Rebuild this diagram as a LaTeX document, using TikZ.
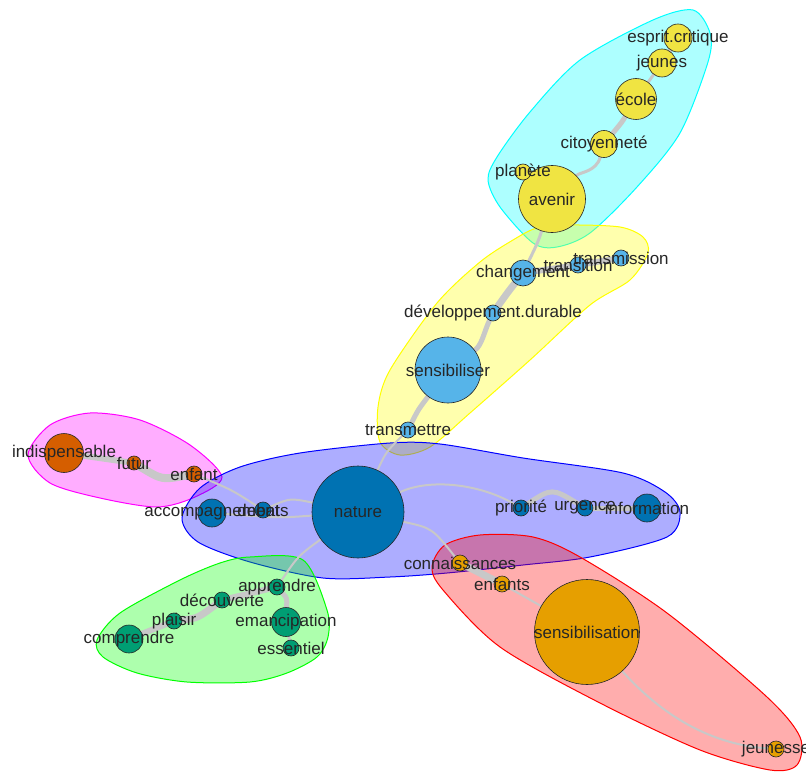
\documentclass[tikz,border=0pt]{standalone}
\usepackage{fontspec}
\setmainfont{Liberation Sans}
\definecolor{okyellow}{HTML}{F0E442}
\definecolor{oksky}{HTML}{56B4E9}
\definecolor{okblue}{HTML}{0072B2}
\definecolor{okvermil}{HTML}{D55E00}
\definecolor{okgreen}{HTML}{009E73}
\definecolor{okorange}{HTML}{E69F00}
\definecolor{edgegray}{RGB}{200,200,200}
\definecolor{hcyan}{RGB}{0,255,255}
\definecolor{hyellow}{RGB}{255,255,0}
\definecolor{hmagenta}{RGB}{255,0,255}
\definecolor{hblue}{RGB}{0,0,255}
\definecolor{hgreen}{RGB}{0,255,0}
\definecolor{hred}{RGB}{255,0,0}
\pgfdeclarelayer{hulls}
\pgfdeclarelayer{edges}
\pgfsetlayers{hulls,edges,main}

\begin{document}
\begin{tikzpicture}[x=1pt,y=-1pt,
    hull/.style={draw=#1,fill=#1,fill opacity=0.32,line width=1pt},
    edge/.style={edgegray,line cap=round,line width=#1},
    vtx/.style={circle,draw=black!85,line width=0.6pt,fill=#1,inner sep=0pt},
    lbl/.style={text=black!85,inner sep=0pt,font=\fontsize{17}{19}\selectfont}]
    \useasboundingbox (0,0) rectangle (806,773);
    \begin{pgfonlayer}{hulls}
    \fill[white] (0,0) rectangle (806,773);
    \draw[hull=hcyan] plot[smooth cycle] coordinates {(497,157) (530,112) (580,60) (653,20) (693,10) (710,33) (708,62) (680,133) (637,187) (590,233) (557,247) (533,243) (500,207) (488,180)};
    \draw[hull=hyellow] plot[smooth cycle] coordinates {(513,240) (537,228) (570,225) (620,227) (643,237) (648,253) (630,280) (590,305) (530,360) (470,413) (430,447) (400,455) (380,442) (378,407) (390,370) (437,303) (480,262)};
    \draw[hull=hmagenta] plot[smooth cycle] coordinates {(28,455) (50,425) (90,413) (140,420) (190,445) (222,477) (195,497) (157,507) (100,498) (50,483)};
    \draw[hull=hblue] plot[smooth cycle] coordinates {(182,518) (200,488) (240,467) (300,453) (390,443) (440,444) (523,458) (623,473) (665,492) (680,512) (667,537) (590,557) (523,565) (447,573) (390,577) (323,578) (250,562) (198,542)};
    \draw[hull=hgreen] plot[smooth cycle] coordinates {(250,557) (303,560) (327,610) (328,637) (317,657) (287,673) (250,682) (187,682) (137,673) (103,657) (97,640) (120,613) (180,580) (220,563)};
    \draw[hull=hred] plot[smooth cycle] coordinates {(432,567) (445,545) (480,535) (533,537) (580,557) (667,613) (767,697) (800,737) (797,765) (770,770) (700,750) (600,703) (500,647) (443,590)};
    \end{pgfonlayer}

    \node[vtx=okyellow,minimum size=67] (avenir) at (552,199) {};
    \node[vtx=okyellow,minimum size=16] (planete) at (523,172) {};
    \node[vtx=okyellow,minimum size=27] (citoyennete) at (604,144) {};
    \node[vtx=okyellow,minimum size=41] (ecole) at (636,99) {};
    \node[vtx=okyellow,minimum size=28] (jeunes) at (662,63) {};
    \node[vtx=okyellow,minimum size=28] (esprit) at (678,38) {};

    \node[vtx=oksky,minimum size=66] (sensibiliser) at (448,370) {};
    \node[vtx=oksky,minimum size=16] (devdur) at (493,313) {};
    \node[vtx=oksky,minimum size=26] (changement) at (523,273) {};
    \node[vtx=oksky,minimum size=16] (transition) at (578,265) {};
    \node[vtx=oksky,minimum size=16] (transmission) at (621,258) {};
    \node[vtx=oksky,minimum size=16] (transmettre) at (408,430) {};

    \node[vtx=okblue,minimum size=92] (nature) at (358,512) {};
    \node[vtx=okblue,minimum size=16] (priorite) at (521,508) {};
    \node[vtx=okblue,minimum size=16] (urgence) at (585,508) {};
    \node[vtx=okblue,minimum size=28] (information) at (647,508) {};
    \node[vtx=okblue,minimum size=28] (accompagnement) at (212,513) {};
    \node[vtx=okblue,minimum size=16] (debats) at (263,510) {};

    \node[vtx=okvermil,minimum size=39] (indispensable) at (64,453) {};
    \node[vtx=okvermil,minimum size=14] (futur) at (134,463) {};
    \node[vtx=okvermil,minimum size=16] (enfant) at (194,474) {};

    \node[vtx=okgreen,minimum size=16] (apprendre) at (277,587) {};
    \node[vtx=okgreen,minimum size=16] (decouverte) at (222,600) {};
    \node[vtx=okgreen,minimum size=16] (plaisir) at (174,621) {};
    \node[vtx=okgreen,minimum size=28] (comprendre) at (129,639) {};
    \node[vtx=okgreen,minimum size=29] (emancipation) at (286,622) {};
    \node[vtx=okgreen,minimum size=16] (essentiel) at (291,648) {};

    \node[vtx=okorange,minimum size=16] (connaissances) at (460,563) {};
    \node[vtx=okorange,minimum size=16] (enfants) at (502,584) {};
    \node[vtx=okorange,minimum size=105] (sensibilisation) at (587,632) {};
    \node[vtx=okorange,minimum size=16] (jeunesse) at (776,749) {};

    \begin{pgfonlayer}{edges}
    \draw[edge=4] (esprit) -- (jeunes);
    \draw[edge=3] (jeunes) -- (ecole);
    \draw[edge=5] (ecole) .. controls (622,122) .. (citoyennete);
    \draw[edge=3] (citoyennete) .. controls (596,172) and (580,172) .. (avenir);
    \draw[edge=2] (avenir) -- (planete);
    \draw[edge=3] (avenir) .. controls (538,242) .. (changement);
    \draw[edge=6] (changement) -- (transition);
    \draw[edge=6] (transition) -- (transmission);
    \draw[edge=7] (changement) .. controls (508,292) .. (devdur);
    \draw[edge=5] (devdur) .. controls (484,332) and (482,345) .. (sensibiliser);
    \draw[edge=5] (sensibiliser) .. controls (418,410) .. (transmettre);
    \draw[edge=2] (transmettre) .. controls (386,452) .. (nature);
    \draw[edge=2] (nature) .. controls (430,478) and (480,484) .. (priorite);
    \draw[edge=5] (priorite) .. controls (552,488) .. (urgence);
    \draw[edge=5] (urgence) -- (information);
    \draw[edge=2] (nature) .. controls (290,498) .. (debats);
    \draw[edge=2] (nature) .. controls (280,518) .. (accompagnement);
    \draw[edge=2] (enfant) .. controls (232,490) .. (debats);
    \draw[edge=6] (indispensable) -- (futur);
    \draw[edge=8] (futur) .. controls (162,480) .. (enfant);
    \draw[edge=2] (nature) .. controls (432,528) .. (connaissances);
    \draw[edge=7] (connaissances) -- (enfants);
    \draw[edge=2] (enfants) -- (sensibilisation);
    \draw[edge=2] (sensibilisation) .. controls (668,722) and (718,745) .. (jeunesse);
    \draw[edge=2] (nature) .. controls (298,556) .. (apprendre);
    \draw[edge=6] (apprendre) -- (decouverte);
    \draw[edge=7] (decouverte) .. controls (198,618) .. (plaisir);
    \draw[edge=6] (plaisir) -- (comprendre);
    \draw[edge=5] (apprendre) .. controls (287,598) .. (emancipation);
    \draw[edge=3] (emancipation) -- (essentiel);
    \end{pgfonlayer}

    \foreach \v/\t in {avenir/avenir, planete/planète, citoyennete/citoyenneté, ecole/école,
        jeunes/jeunes, esprit/esprit.critique, sensibiliser/sensibiliser,
        devdur/développement.durable, changement/changement, transition/transition,
        transmission/transmission, transmettre/transmettre, nature/nature,
        priorite/priorité, urgence/urgence, information/information,
        accompagnement/accompagnement, debats/debats, indispensable/indispensable,
        futur/futur, enfant/enfant, apprendre/apprendre, decouverte/découverte,
        plaisir/plaisir, comprendre/comprendre, emancipation/emancipation,
        essentiel/essentiel, connaissances/connaissances, enfants/enfants,
        sensibilisation/sensibilisation, jeunesse/jeunesse}
      \node[lbl] (l-\v) at (\v) {\t};
\end{tikzpicture}
\end{document}
